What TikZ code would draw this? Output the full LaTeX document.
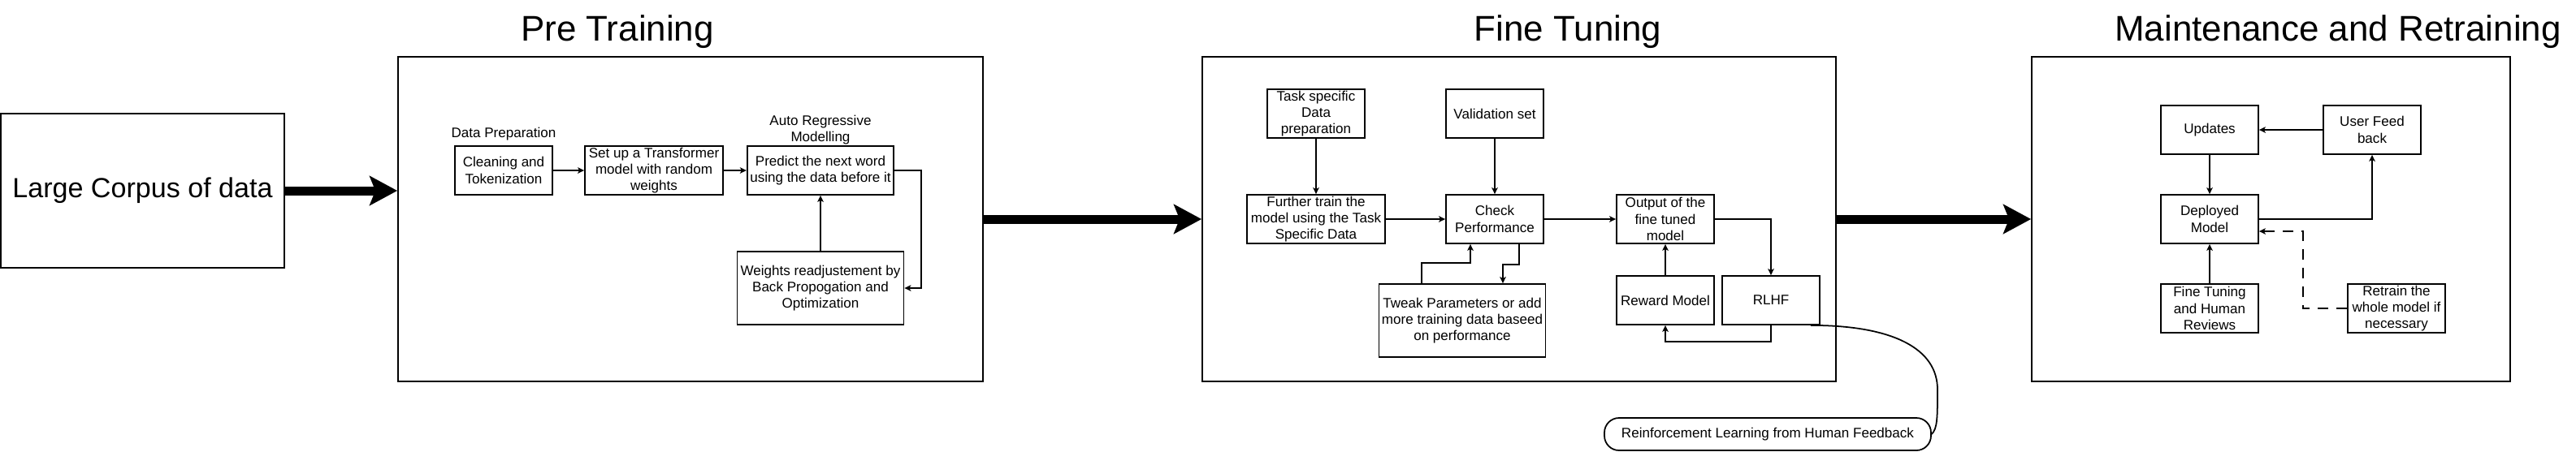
\documentclass[tikz,border=0pt]{standalone}
\usepackage{fontspec}
\setmainfont{Liberation Sans}
\usetikzlibrary{arrows.meta, positioning}

\begin{document}
\begin{tikzpicture}[
      >={Stealth[length=0.8mm, width=0.75mm, inset=0.2mm]},
      line width=0.5pt,
      box/.style={draw, align=center, font=\fontsize{4.85pt}{5.8pt}\selectfont, inner xsep=1pt, inner ysep=0pt, minimum width=12mm, minimum height=6mm},
      lbl/.style={align=center, font=\fontsize{4.85pt}{5.8pt}\selectfont, inner sep=1pt},
      stage/.style={draw, minimum height=40mm},
      ttl/.style={anchor=base, font=\fontsize{12.5pt}{14pt}\selectfont, inner sep=0pt},
      flow/.style={->},
      big/.style={-{Stealth[length=3.4mm, width=3.6mm, inset=0.7mm]}, line width=1.1mm}]
    \useasboundingbox (0,0) rectangle (31.71,-5.56);
    % stages and their titles
    \foreach \n/\x/\w/\tx/\t in {pre/8.50/72/7.60/Pre Training, fine/18.70/78/19.30/Fine Tuning, maint/27.955/58.9/28.78/Maintenance and Retraining} {
      \node[stage, minimum width=\w mm] (\n) at (\x,-2.70) {};
      \node[ttl] (t\n) at (\tx,-0.50) {\t};
    }
    \node[box, minimum width=34.9mm, minimum height=19mm, font=\fontsize{9.7pt}{11pt}\selectfont] (corpus) at (1.755,-2.35) {Large Corpus of data};
    \draw[big] (corpus.east) -- (corpus.east -| pre.west);
    \draw[big] (pre.east) -- (fine.west);
    \draw[big] (fine.east) -- (maint.west);
    % pre training
    \node[box] (clean) at (6.20,-2.10) {Cleaning and\\Tokenization};
    \node[box, minimum width=17mm] (setup) at (8.05,-2.10) {Set up a Transformer\\model with random\\weights};
    \node[box, minimum width=18mm] (predict) at (10.10,-2.10) {Predict the next word\\using the data before it};
    \node[box, minimum width=20.5mm, minimum height=9mm] (weights) at (10.10,-3.55) {Weights readjustement by\\Back Propogation and\\Optimization};
    \node[lbl] (prep) at (6.20,-1.65) {Data Preparation};
    \node[lbl] (autoreg) at (10.10,-1.60) {Auto Regressive\\Modelling};
    \draw[flow] (clean) -- (setup);
    \draw[flow] (setup) -- (predict);
    \draw[flow] (predict.east) -- ++(0.33,0) |- (weights.east);
    \draw[flow] (weights) -- (predict);
    % fine tuning
    \node[box] (task) at (16.20,-1.40) {Task specific\\Data\\preparation};
    \node[box] (valid) at (18.40,-1.40) {Validation set};
    \node[box, minimum width=17mm] (further) at (16.20,-2.70) {Further train the\\model using the Task\\Specific Data};
    \node[box] (check) at (18.40,-2.70) {Check\\Performance};
    \node[box] (output) at (20.50,-2.70) {Output of the\\fine tuned\\model};
    \node[box, minimum width=20mm, minimum height=9mm] (tweak) at (18.00,-3.95) {Tweak Parameters or add\\more training data baseed\\on performance};
    \node[box] (reward) at (20.50,-3.70) {Reward Model};
    \node[box] (rlhf) at (21.80,-3.70) {RLHF};
    \node[box, minimum width=40.2mm, minimum height=4mm, rounded corners=1.8mm] (rlhfLong) at (21.76,-5.35) {Reinforcement Learning from Human Feedback};
    \coordinate (bend) at (23.85,-4.80);
    \draw[flow] (task) -- (further);
    \draw[flow] (valid) -- (check);
    \draw[flow] (further) -- (check);
    \draw[flow] (check) -- (output);
    \draw[flow] ([xshift=-5mm]tweak.north) -- ++(0,0.25) -| ([xshift=-3mm]check.south);
    \draw[flow] ([xshift=3mm]check.south) -- ++(0,-0.25) -| ([xshift=5mm]tweak.north);
    \draw[flow] (output.east) -| (rlhf.north);
    \draw[flow] (rlhf.south) -- ++(0,-0.20) -| (reward.south);
    \draw[flow] (reward) -- (output);
    \draw ([xshift=-1.2mm]rlhf.south east) .. controls +(1.02,0) and +(0,0.5) .. (bend) .. controls +(0,-0.35) and +(0.07,0.07) .. (rlhfLong.east);
    % maintenance
    \node[box] (updates) at (27.20,-1.60) {Updates};
    \node[box] (feedback) at (29.20,-1.60) {User Feed\\back};
    \node[box] (deployed) at (27.20,-2.70) {Deployed\\Model};
    \node[box] (review) at (27.20,-3.80) {Fine Tuning\\and Human\\Reviews};
    \node[box] (retrain) at (29.50,-3.80) {Retrain the\\whole model if\\necessary};
    \draw[flow] (feedback) -- (updates);
    \draw[flow] (updates) -- (deployed);
    \draw[flow] (deployed.east) -| (feedback.south);
    \draw[flow] (review) -- (deployed);
    \draw[flow, dash pattern=on 1.3mm off 1mm] (retrain.west) -- ++(-0.545,0) |- ([yshift=-1.5mm]deployed.east);
  \end{tikzpicture}
\end{document}
